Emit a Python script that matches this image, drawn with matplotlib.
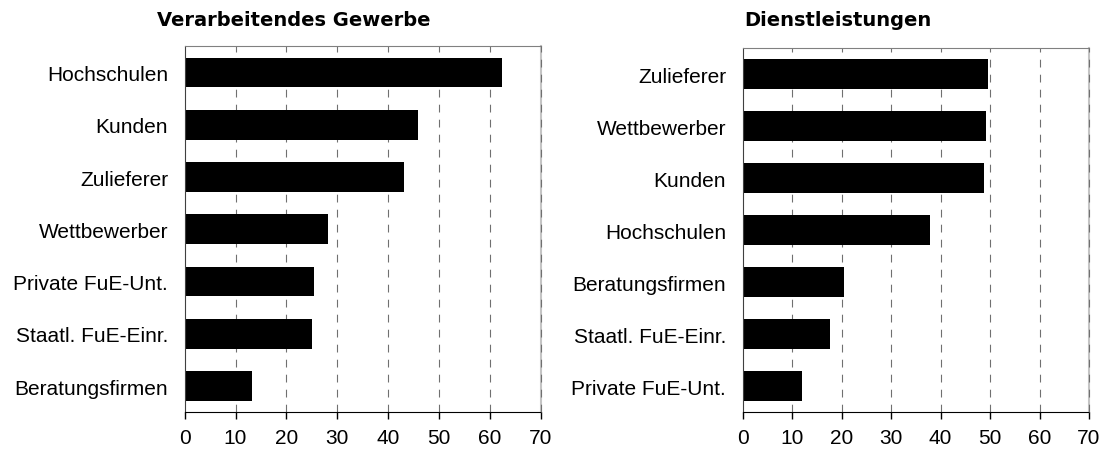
import matplotlib
matplotlib.use("Agg")
import matplotlib.pyplot as plt

plt.rcParams['font.family'] = ['Liberation Sans', 'DejaVu Sans']

# Verarbeitendes Gewerbe (top to bottom)
vg_labels = ['Hochschulen', 'Kunden', 'Zulieferer', 'Wettbewerber',
             'Private FuE-Unt.', 'Staatl. FuE-Einr.', 'Beratungsfirmen']
vg_values = [62.3, 45.8, 43.1, 28.1, 25.4, 25.0, 13.2]

# Dienstleistungen (top to bottom)
dl_labels = ['Zulieferer', 'Wettbewerber', 'Kunden', 'Hochschulen',
             'Beratungsfirmen', 'Staatl. FuE-Einr.', 'Private FuE-Unt.']
dl_values = [49.5, 49.1, 48.8, 37.9, 20.4, 17.6, 11.9]

x_ticks = [0, 10, 20, 30, 40, 50, 60, 70]

fig = plt.figure(figsize=(11.09, 4.56), dpi=100)
ax1 = fig.add_axes([184.7 / 1109, 1 - 413.3 / 456, 356 / 1109, 366 / 456])
ax2 = fig.add_axes([742.7 / 1109, 1 - 413.3 / 456, 346.3 / 1109, 364 / 456])


def draw(ax, labels, values):
    pos = list(range(len(labels)))[::-1]
    ax.set_axisbelow(True)
    ax.barh(pos, values, height=0.57, color='black', zorder=2)
    ax.set_xlim(0, 70)
    ax.set_ylim(-0.5, len(labels) - 0.5)
    ax.set_xticks(x_ticks)
    ax.set_yticks(pos)
    ax.set_yticklabels(labels)
    ax.tick_params(axis='y', length=0, pad=12, labelsize=15)
    ax.tick_params(axis='x', length=5, width=1, direction='out', pad=6, labelsize=15)
    ax.spines['bottom'].set_color('black')
    ax.spines['left'].set_color('#404040')
    ax.spines['top'].set_color('#808080')
    ax.spines['right'].set_color('#c4c4c4')
    ax.spines['right'].set_linewidth(1.5)
    for t in x_ticks[1:]:
        ax.axvline(t, color='#707070', lw=0.8, linestyle=(0, (7, 6.5)),
                   zorder=1 if t < 70 else 3, clip_on=False)


draw(ax1, vg_labels, vg_values)
draw(ax2, dl_labels, dl_values)

fig.text(294 / 1109, 1 - 20 / 456, 'Verarbeitendes Gewerbe', ha='center', va='center',
         fontsize=14, fontweight='bold', family='DejaVu Sans')
fig.text(838 / 1109, 1 - 20 / 456, 'Dienstleistungen', ha='center', va='center',
         fontsize=14, fontweight='bold', family='DejaVu Sans')

fig.savefig('out.png', dpi=100)
